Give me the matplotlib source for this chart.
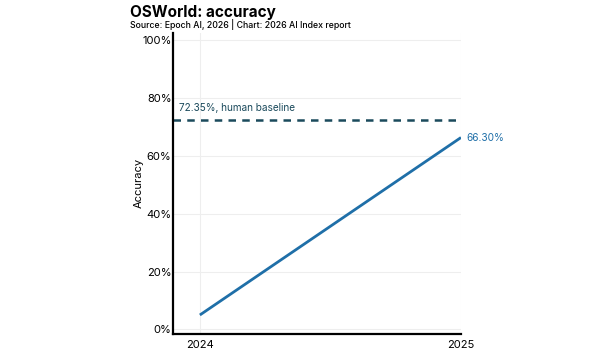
import matplotlib
matplotlib.use("Agg")
import matplotlib.pyplot as plt
from matplotlib.ticker import FuncFormatter

plt.rcParams['font.family'] = ['Inter', 'DejaVu Sans']

# data
years = [2024, 2025]
accuracy = [5.0, 66.30]
human_baseline = 72.35
y_ticks = [0, 20, 40, 60, 80, 100]

line_color = '#1f6fa8'
base_color = '#1b4a5c'

fig = plt.figure(figsize=(6, 3.58), dpi=100)
ax = fig.add_axes([0.2883, 0.0684, 0.48, 0.8394])

ax.plot(years, accuracy, color=line_color, lw=2, solid_capstyle='butt')
ax.axhline(human_baseline, color=base_color, lw=1.8, ls=(0, (3, 2.5)))
ax.text(2023.92, human_baseline + 2.5, f'{human_baseline:.2f}%, human baseline',
        color=base_color, fontsize=7.2, va='bottom', ha='left')
ax.text(years[-1] + 0.02, accuracy[-1], f'{accuracy[-1]:.2f}%',
        color=line_color, fontsize=7.3, va='center', ha='left')

ax.set_xlim(2023.897, 2025.0)
ax.set_ylim(-1.4, 102.4)
ax.set_xticks(years)
ax.set_yticks(y_ticks)
ax.yaxis.set_major_formatter(FuncFormatter(lambda v, p: f'{v:.0f}%'))
ax.tick_params(length=0, labelsize=8, pad=1)
ax.tick_params(axis='x', pad=5)
ax.set_ylabel('Accuracy', fontsize=8, labelpad=-1)
ax.grid(True, color='#eeeeee', lw=0.8)
ax.set_axisbelow(True)
for s in ['top', 'right']:
    ax.spines[s].set_visible(False)
ax.spines['left'].set_linewidth(1.6)
ax.spines['bottom'].set_linewidth(1.6)

fig.text(0.217, 0.9525, 'OSWorld: accuracy', fontsize=11, fontweight='bold', va='baseline')
fig.text(0.217, 0.922, 'Source: Epoch AI, 2026 | Chart: 2026 AI Index report',
         fontsize=6.3, fontweight='medium', va='baseline')

fig.savefig('out.png', dpi=100)
